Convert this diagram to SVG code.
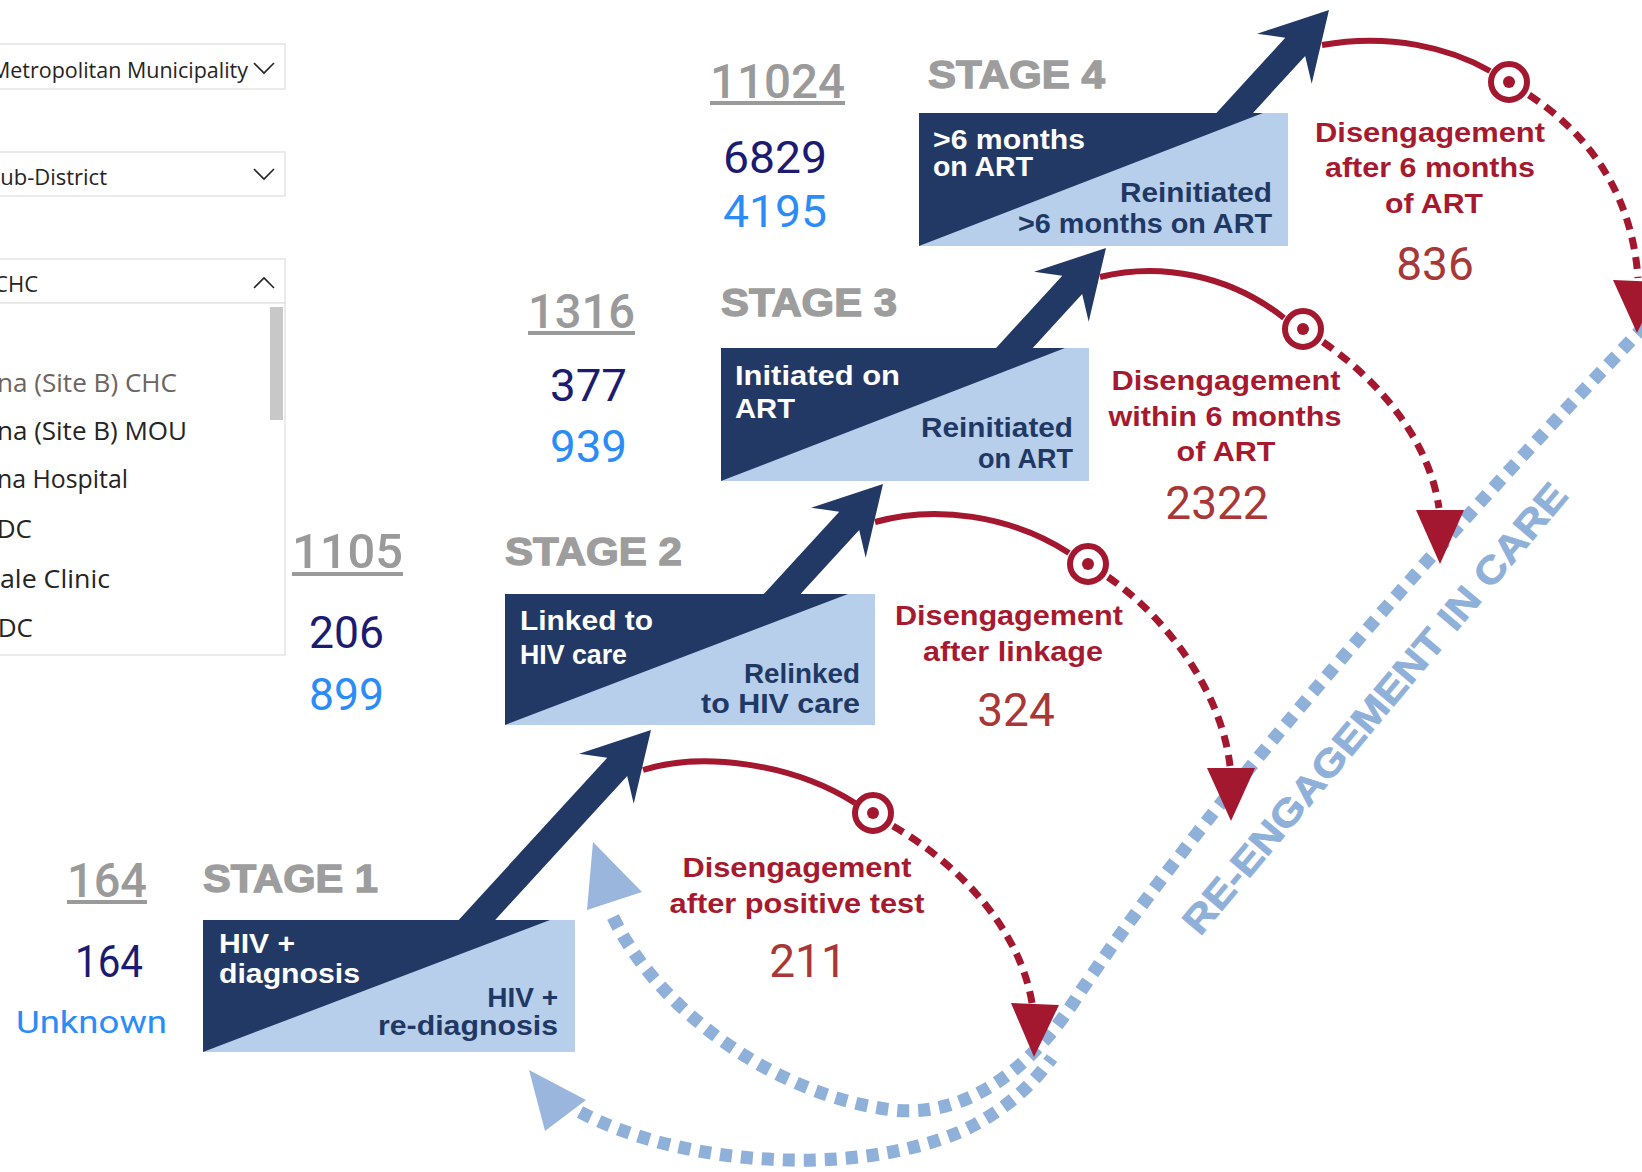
<svg xmlns="http://www.w3.org/2000/svg" width="1642" height="1172" viewBox="0 0 1642 1172">
<defs>
<style>
.ui{font-family:"Open Sans","Noto Sans",sans-serif;fill:#252423;text-anchor:end}
.ui.it{font-size:26px}
.ui.dd{font-size:22px}
.panel{fill:#fff;stroke:#e4e4e4;stroke-width:1.5}
.chev{fill:none;stroke:#252423;stroke-width:1.6}
.stage{font-family:"Liberation Sans",Arial,sans-serif;font-weight:bold;font-size:38px;fill:#9d9d9d;stroke:#9d9d9d;stroke-width:1.3}
.wt{font-family:"Liberation Sans",Arial,sans-serif;font-weight:bold;font-size:28px;fill:#fff}
.nt{font-family:"Liberation Sans",Arial,sans-serif;font-weight:bold;font-size:28px;fill:#1f3864;text-anchor:end}
.rl{font-family:"Liberation Sans",Arial,sans-serif;font-weight:bold;font-size:28px;fill:#a6192e;text-anchor:middle}
.num{font-family:Roboto,"Liberation Sans",sans-serif}
.gray{fill:#9a9a9a;font-weight:500;font-size:48px}
.navy{fill:#1b1b72;font-size:45px}
.blue{fill:#2b8cf7;font-size:45px}
.red{fill:#a83838;font-size:46px;text-anchor:middle}
.dark{fill:#223966}
.light{fill:#b7cfeb}
.rs{fill:none;stroke:#a3172f;stroke-width:6}
.rd{fill:none;stroke:#a3172f;stroke-width:7;stroke-dasharray:12 8}
.rt{fill:#a3172f}
.bd{fill:none;stroke:#8fb0d9;stroke-width:13;stroke-dasharray:12 9}
.bt{fill:#9ab6dd}
.ul{fill:#9a9a9a}
.tgt{fill:#fff;stroke:#a3172f;stroke-width:6}
</style>
</defs>

<!-- report filter panel on the left -->
<g id="filters">
  <rect class="panel" x="-2" y="44" width="287" height="45"/>
  <text class="ui dd" x="248" y="78" textLength="257" lengthAdjust="spacingAndGlyphs">Metropolitan Municipality</text>
  <polyline class="chev" points="254,63 264,73 274,63"/>
  <rect class="panel" x="-2" y="152" width="287" height="44"/>
  <text class="ui dd" x="107" y="185">ub-District</text>
  <polyline class="chev" points="254,169 264,179 274,169"/>
  <rect class="panel" x="-2" y="259" width="287" height="44"/>
  <text class="ui dd" x="38" y="292">CHC</text>
  <polyline class="chev" points="254,288 264,278 274,288"/>
  <rect class="panel" x="-2" y="303" width="287" height="352"/>
  <rect x="270" y="307" width="13" height="113" fill="#c8c8c8"/>
  <text class="ui it" x="177" y="392" textLength="180" lengthAdjust="spacingAndGlyphs" style="fill:#6b6461">na (Site B) CHC</text>
  <text class="ui it" x="187" y="440" textLength="190" lengthAdjust="spacingAndGlyphs">na (Site B) MOU</text>
  <text class="ui it" x="128" y="488" textLength="131" lengthAdjust="spacingAndGlyphs">na Hospital</text>
  <text class="ui it" x="32" y="538">DC</text>
  <text class="ui it" x="110" y="588" textLength="110" lengthAdjust="spacingAndGlyphs">ale Clinic</text>
  <text class="ui it" x="33" y="637">DC</text>
</g>

<!-- connectors: blue re-engagement loops, navy progression arrows, red disengagement arcs -->
<g id="connectors">
  <path class="bd" d="M613,917 C655,1005 770,1095 893,1110 C965,1118 1030,1070 1075,1000 C1180,840 1400,580 1665,305"/>
  <path class="bd" d="M580,1112 C680,1165 850,1178 960,1132 C1000,1114 1030,1088 1052,1058"/>
  <polygon class="bt" points="593,842 642,892 587,910"/>
  <polygon class="bt" points="529,1070 586,1100 545,1131"/>
  <text transform="translate(1200,937) rotate(-50)" textLength="575" lengthAdjust="spacingAndGlyphs" style="font-family:'Liberation Sans',Arial,sans-serif;font-weight:bold;font-size:38px;fill:#8fb0d9;stroke:#8fb0d9;stroke-width:0.8">RE-ENGAGEMENT IN CARE</text>

  <path class="dark" transform="translate(651,730) rotate(-47.5)" d="M0,0 L-66,-37 L-50,-13.5 L-274,-13.5 L-274,13.5 L-50,13.5 L-66,37 Z"/>
  <path class="dark" transform="translate(883,484) rotate(-47.5)" d="M0,0 L-66,-37 L-50,-13.5 L-165,-13.5 L-165,13.5 L-50,13.5 L-66,37 Z"/>
  <path class="dark" transform="translate(1106,248) rotate(-47.5)" d="M0,0 L-66,-37 L-50,-13.5 L-152,-13.5 L-152,13.5 L-50,13.5 L-66,37 Z"/>
  <path class="dark" transform="translate(1329,10) rotate(-47.5)" d="M0,0 L-66,-37 L-50,-13.5 L-156,-13.5 L-156,13.5 L-50,13.5 L-66,37 Z"/>

  <path class="rs" d="M643,770 C700,752 790,762 855,803"/>
  <path class="rd" d="M893,826 C960,865 1020,930 1032,1003"/>
  <polygon class="rt" points="1011,1003 1059,1005 1034,1057"/>
  <circle class="tgt" cx="873" cy="813" r="18"/><circle class="rt" cx="873" cy="813" r="6"/>

  <path class="rs" d="M875,522 C935,505 1010,515 1069,553"/>
  <path class="rd" d="M1108,577 C1170,620 1222,695 1230,766"/>
  <polygon class="rt" points="1207,768 1255,768 1231,821"/>
  <circle class="tgt" cx="1088" cy="564" r="18"/><circle class="rt" cx="1088" cy="564" r="6"/>

  <path class="rs" d="M1100,277 C1160,262 1230,275 1284,318"/>
  <path class="rd" d="M1323,342 C1385,385 1430,445 1439,508"/>
  <polygon class="rt" points="1416,510 1464,510 1440,564"/>
  <circle class="tgt" cx="1303" cy="329" r="18"/><circle class="rt" cx="1303" cy="329" r="6"/>

  <path class="rs" d="M1322,45 C1390,33 1450,48 1490,71"/>
  <path class="rd" d="M1529,95 C1590,135 1632,195 1638,278"/>
  <polygon class="rt" points="1613,280 1662,282 1637,333"/>
  <circle class="tgt" cx="1509" cy="82" r="18"/><circle class="rt" cx="1509" cy="82" r="6"/>
</g>

<!-- stage 1 -->
<g id="stage1">
  <text class="stage" x="203" y="892" textLength="175" lengthAdjust="spacingAndGlyphs">STAGE 1</text>
  <rect class="light" x="203" y="920" width="372" height="132"/>
  <polygon class="dark" points="203,920 550,920 203,1052"/>
  <text class="wt" x="219" y="953" textLength="76" lengthAdjust="spacingAndGlyphs">HIV +</text>
  <text class="wt" x="219" y="983" textLength="141" lengthAdjust="spacingAndGlyphs">diagnosis</text>
  <text class="nt" x="558" y="1007">HIV +</text>
  <text class="nt" x="558" y="1035" textLength="180" lengthAdjust="spacingAndGlyphs">re-diagnosis</text>
</g>
<g id="stage1-counts">
  <text class="num gray" x="67" y="897" textLength="80" lengthAdjust="spacingAndGlyphs">164</text>
  <rect class="ul" x="67" y="900" width="80" height="4"/>
  <text class="num navy" x="75" y="977" textLength="68" lengthAdjust="spacingAndGlyphs">164</text>
  <text class="num blue" x="16" y="1033" style="font-size:32px" textLength="151" lengthAdjust="spacingAndGlyphs">Unknown</text>
</g>
<g id="loss1">
  <text class="rl" x="797" y="877" textLength="229" lengthAdjust="spacingAndGlyphs">Disengagement</text>
  <text class="rl" x="797" y="913" textLength="255" lengthAdjust="spacingAndGlyphs">after positive test</text>
  <text class="num red" x="808" y="977">211</text>
</g>

<!-- stage 2 -->
<g id="stage2">
  <text class="stage" x="505" y="565" textLength="177" lengthAdjust="spacingAndGlyphs">STAGE 2</text>
  <rect class="light" x="505" y="594" width="370" height="131"/>
  <polygon class="dark" points="505,594 848,594 505,725"/>
  <text class="wt" x="520" y="630" textLength="133" lengthAdjust="spacingAndGlyphs">Linked to</text>
  <text class="wt" x="520" y="664" textLength="107" lengthAdjust="spacingAndGlyphs">HIV care</text>
  <text class="nt" x="860" y="683" textLength="116" lengthAdjust="spacingAndGlyphs">Relinked</text>
  <text class="nt" x="860" y="713" textLength="159" lengthAdjust="spacingAndGlyphs">to HIV care</text>
</g>
<g id="stage2-counts">
  <text class="num gray" x="292" y="568" textLength="111" lengthAdjust="spacingAndGlyphs">1105</text>
  <rect class="ul" x="292" y="572" width="111" height="4"/>
  <text class="num navy" x="309" y="648" textLength="75" lengthAdjust="spacingAndGlyphs">206</text>
  <text class="num blue" x="309" y="710" textLength="75" lengthAdjust="spacingAndGlyphs">899</text>
</g>
<g id="loss2">
  <text class="rl" x="1009" y="625" textLength="228" lengthAdjust="spacingAndGlyphs">Disengagement</text>
  <text class="rl" x="1013" y="661" textLength="180" lengthAdjust="spacingAndGlyphs">after linkage</text>
  <text class="num red" x="1016" y="726">324</text>
</g>

<!-- stage 3 -->
<g id="stage3">
  <text class="stage" x="721" y="316" textLength="176" lengthAdjust="spacingAndGlyphs">STAGE 3</text>
  <rect class="light" x="721" y="348" width="368" height="133"/>
  <polygon class="dark" points="721,348 1065,348 721,481"/>
  <text class="wt" x="735" y="385" textLength="165" lengthAdjust="spacingAndGlyphs">Initiated on</text>
  <text class="wt" x="735" y="418" textLength="60" lengthAdjust="spacingAndGlyphs">ART</text>
  <text class="nt" x="1073" y="437" textLength="152" lengthAdjust="spacingAndGlyphs">Reinitiated</text>
  <text class="nt" x="1073" y="468" textLength="95" lengthAdjust="spacingAndGlyphs">on ART</text>
</g>
<g id="stage3-counts">
  <text class="num gray" x="528" y="328" textLength="107" lengthAdjust="spacingAndGlyphs">1316</text>
  <rect class="ul" x="528" y="331" width="107" height="4"/>
  <text class="num navy" x="550" y="401" textLength="77" lengthAdjust="spacingAndGlyphs">377</text>
  <text class="num blue" x="550" y="462" textLength="77" lengthAdjust="spacingAndGlyphs">939</text>
</g>
<g id="loss3">
  <text class="rl" x="1226" y="390" textLength="229" lengthAdjust="spacingAndGlyphs">Disengagement</text>
  <text class="rl" x="1225" y="426" textLength="233" lengthAdjust="spacingAndGlyphs">within 6 months</text>
  <text class="rl" x="1226" y="461" textLength="99" lengthAdjust="spacingAndGlyphs">of ART</text>
  <text class="num red" x="1217" y="519">2322</text>
</g>

<!-- stage 4 -->
<g id="stage4">
  <text class="stage" x="928" y="88" textLength="177" lengthAdjust="spacingAndGlyphs">STAGE 4</text>
  <rect class="light" x="919" y="113" width="369" height="133"/>
  <polygon class="dark" points="919,113 1263,113 919,246"/>
  <text class="wt" x="933" y="149" textLength="152" lengthAdjust="spacingAndGlyphs">&gt;6 months</text>
  <text class="wt" x="933" y="176" textLength="100" lengthAdjust="spacingAndGlyphs">on ART</text>
  <text class="nt" x="1272" y="202" textLength="152" lengthAdjust="spacingAndGlyphs">Reinitiated</text>
  <text class="nt" x="1272" y="233" textLength="254" lengthAdjust="spacingAndGlyphs">&gt;6 months on ART</text>
</g>
<g id="stage4-counts">
  <text class="num gray" x="710" y="98" textLength="135" lengthAdjust="spacingAndGlyphs">11024</text>
  <rect class="ul" x="710" y="101" width="135" height="4"/>
  <text class="num navy" x="723" y="173" textLength="104" lengthAdjust="spacingAndGlyphs">6829</text>
  <text class="num blue" x="723" y="227" textLength="104" lengthAdjust="spacingAndGlyphs">4195</text>
</g>
<g id="loss4">
  <text class="rl" x="1430" y="142" textLength="230" lengthAdjust="spacingAndGlyphs">Disengagement</text>
  <text class="rl" x="1430" y="177" textLength="210" lengthAdjust="spacingAndGlyphs">after 6 months</text>
  <text class="rl" x="1434" y="213" textLength="98" lengthAdjust="spacingAndGlyphs">of ART</text>
  <text class="num red" x="1435" y="280">836</text>
</g>
</svg>
